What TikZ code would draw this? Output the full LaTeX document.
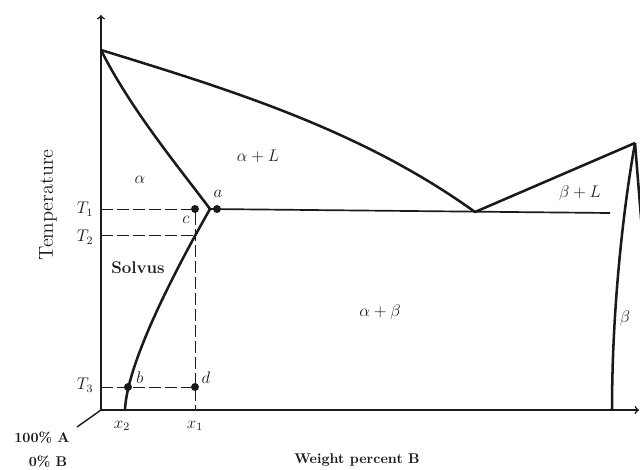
\documentclass[tikz,border=0pt]{standalone}
\usepackage{tikz}
\definecolor{inkc}{HTML}{1A1A1A}
\begin{document}
\begin{tikzpicture}[x=0.25mm, y=0.25mm, inkc,
    phase/.style={line width=1.8pt, line join=round},
    axisline/.style={->, line width=1.1pt},
    guide/.style={line width=0.7pt, dash pattern=on 3mm off 1mm},
    dot/.style={circle, fill=inkc, inner sep=0pt, minimum size=2mm},
    lbl/.style={font=\large}]
  \clip (-101,-59) rectangle (539,410);
  \fill[white] (-101,-59) rectangle (539,410);
  \coordinate (O) at (0,0);
  \coordinate (mA) at (0,360);
  \coordinate (mB) at (534,267);
  \coordinate (eu) at (374,198);
  \coordinate (v) at (109,201);
  \coordinate (eend) at (509,197);
  \coordinate (t1) at (0,201);
  \coordinate (t2) at (0,175);
  \coordinate (t3) at (0,23);
  \coordinate (s2) at (94,175);
  \coordinate (x1) at (94,0);
  \draw[axisline] (O) -- (0,395);
  \draw[axisline] (O) -- (538,0);
  \draw[phase] (mA) .. controls (130,320) and (260,280) .. (eu) -- (mB);
  \draw[phase] (mA) .. controls (30,300) and (80,240) .. (v);
  \draw[phase] (v) .. controls (80,150) and (26,50) .. (24,0);
  \draw[phase] (mB) .. controls (522,200) and (511,100) .. (511,0);
  \draw[phase] (mB) -- (545,130);
  \draw[line width=1.2pt] (v) -- (eend);
  \node[dot] (c) at (94,201) {};
  \node[dot] (a) at (116,201) {};
  \node[dot] (b) at (27,23) {};
  \node[dot] (d) at (94,23) {};
  \draw[guide] (t1) -- (c);
  \draw[guide] (t2) -- (s2);
  \draw[guide] (t3) -- (d);
  \draw[guide] (c) -- (x1);
  \node[lbl] (la) at (117,216) {$a$};
  \node[lbl] (lc) at (85,190) {$c$};
  \node[lbl] (lb) at (39,32) {$b$};
  \node[lbl] (ld) at (105,32) {$d$};
  \node[lbl] (T1) at (-16,201) {$T_1$};
  \node[lbl] (T2) at (-16,173) {$T_2$};
  \node[lbl] (T3) at (-16,25) {$T_3$};
  \node[lbl] (X2) at (21,-16) {$x_2$};
  \node[lbl] (X1) at (94,-16) {$x_1$};
  \node[lbl] (alpha) at (39,230) {$\alpha$};
  \node[lbl] (alphaL) at (157,254) {$\alpha+L$};
  \node[lbl] (betaL) at (479,217) {$\beta+L$};
  \node[lbl] (alphabeta) at (279,98) {$\alpha+\beta$};
  \node[lbl] (beta) at (524,92) {$\beta$};
  \node[font=\large\bfseries] (solvus) at (37,142) {Solvus};
  \node[rotate=90, font=\Large] (temp) at (-53,205) {Temperature};
  \node[font=\bfseries] (wt) at (256,-50) {Weight percent B};
  \node[font=\bfseries] (pA) at (-59,-28) {100\% A};
  \node[font=\bfseries] (pB) at (-53,-52) {0\% B};
  \coordinate (pAtip) at (-24,-17);
  \draw[line width=1pt] (pAtip) -- (O);
\end{tikzpicture}
\end{document}
